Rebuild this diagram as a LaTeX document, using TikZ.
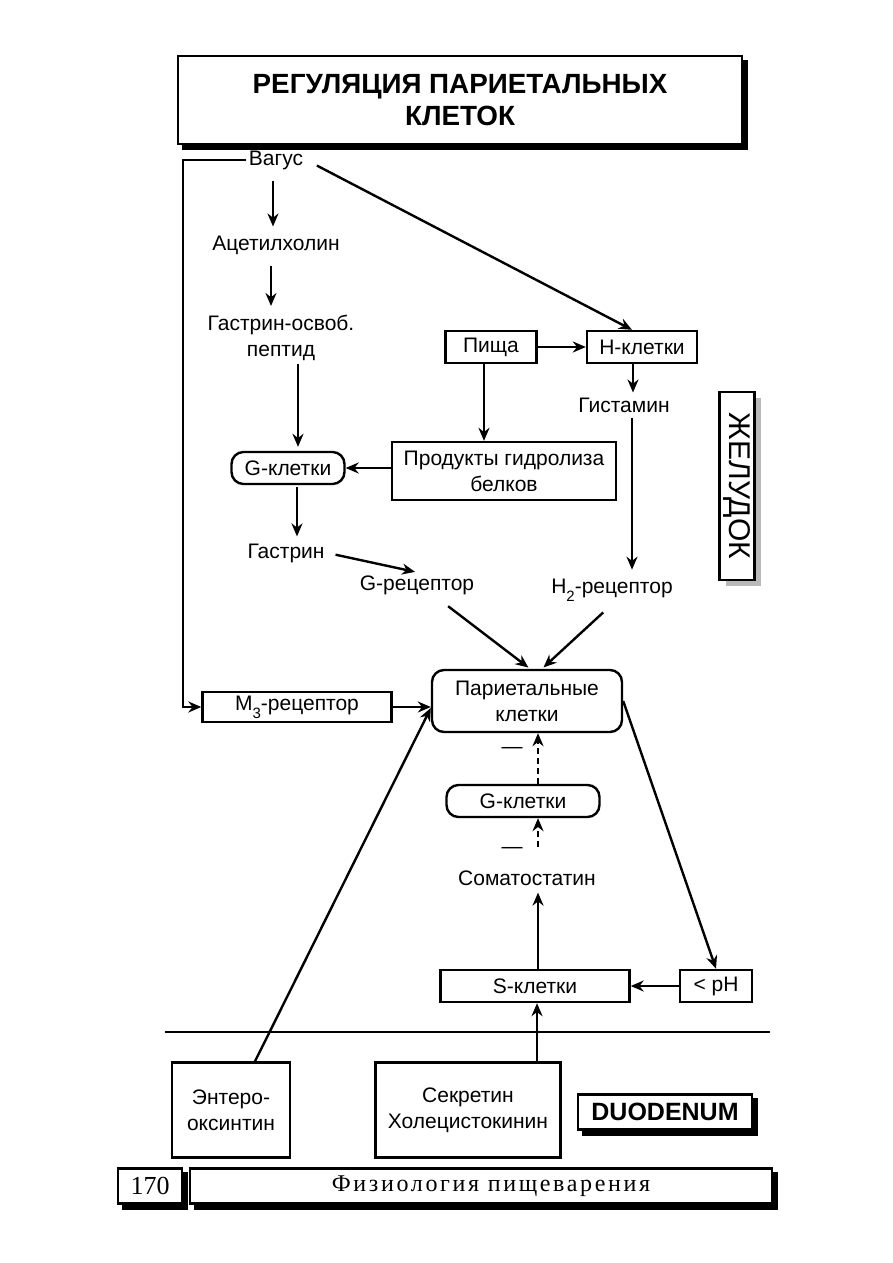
\documentclass[tikz,border=0pt]{standalone}
\usepackage{fontspec}
\setmainfont{Liberation Sans}
\newfontfamily\pagefont{Liberation Serif}
\newfontfamily\bookfont[LetterSpace=11]{Liberation Serif}
\newcommand\lowsub[1]{\raisebox{-0.7ex}{\fontsize{7.5}{8}\selectfont #1}}
\usetikzlibrary{arrows.meta,shadows}

\begin{document}
\begin{tikzpicture}[x=0.5pt,y=-0.5pt,
  >={Stealth[length=6.5pt,width=5.5pt]},
  line width=1.2pt,
  font=\fontsize{10.5}{13}\selectfont,
  box/.style={draw,fill=white,minimum height=16pt,inner sep=2pt,align=center},
  roundbox/.style={box,rounded corners=6pt},
  lbl/.style={inner sep=1pt,align=center},
  blackshadow/.style={copy shadow={shadow xshift=2.5pt,shadow yshift=-2.5pt,fill=black,draw=black}},
  grayshadow/.style={copy shadow={shadow xshift=3pt,shadow yshift=-3pt,fill=gray!55,draw=none}},
  inhib/.style={->,dashed,dash pattern=on 3pt off 2pt}]
  \path[use as bounding box,fill=white] (0,0) rectangle (893,1263);

  % title and side labels
  \node[box,blackshadow,minimum width=282pt,minimum height=44pt,
        font=\bfseries\fontsize{13.9}{16}\selectfont] (title) at (460,100)
        {РЕГУЛЯЦИЯ ПАРИЕТАЛЬНЫХ\\КЛЕТОК};
  \node[box,grayshadow,rotate=-90,minimum width=94pt,minimum height=17.5pt,
        inner sep=0pt,font=\fontsize{15}{15}\selectfont] (stomach) at (737,486) {ЖЕЛУДОК};
  \node[box,blackshadow,minimum width=87pt,minimum height=17.5pt,
        font=\bfseries\fontsize{12.5}{14}\selectfont] (duod) at (665,1112) {DUODENUM};

  % stomach
  \node[lbl] (vagus) at (276,160) {Вагус};
  \node[lbl] (ach) at (276,245) {Ацетилхолин};
  \node[lbl] (grp) at (281,338) {Гастрин-освоб.\\пептид};
  \node[box] (food) at (491,347) [minimum width=45.5pt] {Пища};
  \node[box] (hcell) at (642,347) [minimum width=55pt] {H-клетки};
  \node[lbl] (hist) at (624,405) {Гистамин};
  \node[box] (prod) at (504,471) [minimum width=112pt,minimum height=29pt] {Продукты гидролиза\\белков};
  \node[roundbox] (gcell1) at (288,468) [minimum width=56.5pt] {G-клетки};
  \node[lbl] (gastrin) at (286,553) {Гастрин};
  \node[lbl] (grec) at (417,585) {G-рецептор};
  \node[lbl] (h2rec) at (612,590) {H\lowsub{2}-рецептор};
  \node[roundbox] (par) at (527,701) [minimum width=95pt,minimum height=31pt] {Париетальные\\клетки};
  \node[box] (m3) at (297,707) [minimum width=94.5pt,minimum height=15pt] {M\lowsub{3}-рецептор};
  \node[lbl] (minus1) at (512,750) {—};
  \node[roundbox] (gcell2) at (523,801) [minimum width=76.5pt] {G-клетки};
  \node[lbl] (minus2) at (512,850) {—};
  \node[lbl] (somat) at (527,878) {Соматостатин};
  \node[box] (scell) at (535,986) [minimum width=94.5pt] {S-клетки};
  \node[box] (ph) at (716,986) [minimum width=36pt] {< pH};

  % duodenum
  \draw (165,1032) -- (770,1032);
  \node[box] (entero) at (231,1110) [minimum width=59pt,minimum height=47.5pt] {Энтеро-\\оксинтин};
  \node[box] (secr) at (468,1110) [minimum width=92.5pt,minimum height=47.5pt] {Секретин\\Холецистокинин};

  % footer
  \node[box,blackshadow,minimum width=32pt,minimum height=17.5pt,
        font=\pagefont\fontsize{13}{14}\selectfont] (page) at (150,1186) {170};
  \node[box,blackshadow,minimum width=291pt,minimum height=17.5pt,
        font=\bookfont\fontsize{12}{14}\selectfont] (book) at (481,1186) {\hspace{10pt}Физиология пищеварения};

  % connectors
  \coordinate (vleft) at (183,707);
  \draw[->] (vagus.west) -| (vleft) -- (m3.west);
  \draw[->,shorten <=4pt,shorten >=3pt] ([xshift=-1.5pt]vagus.south) -- ([xshift=-1.5pt]ach.north);
  \draw[->,shorten <=4pt,shorten >=3pt] ([xshift=-2.5pt]ach.south) -- ([xshift=-2.5pt]ach.south |- grp.north);
  \draw[->,shorten >=2pt] ([xshift=8.5pt]grp.south) -- ([xshift=8.5pt]grp.south |- gcell1.north);
  \draw[->,shorten <=1pt,shorten >=2pt] ([xshift=4.5pt]gcell1.south) -- ([xshift=4.5pt]gcell1.south |- gastrin.north);
  \draw[->,shorten <=4pt,shorten >=1pt] (gastrin.east) -- (grec.north);
  \draw[->,shorten <=6pt] (vagus.east) -- ([xshift=-5pt]hcell.north);
  \draw[->] (food) -- (hcell);
  \draw[->,shorten >=1pt] ([xshift=-4.5pt]hcell.south) -- ([xshift=-4.5pt]hcell.south |- hist.north);
  \draw[->] ([xshift=-3.5pt]food.south) -- ([xshift=-3.5pt]food.south |- prod.north);
  \draw[->] (prod.west |- gcell1.east) -- (gcell1.east);
  \draw[->,shorten <=1pt,shorten >=3pt] ([xshift=4pt]hist.south) -- ([xshift=4pt]hist.south |- h2rec.north);
  \draw[->,shorten <=7pt,shorten >=1pt] ([xshift=10pt]grec.south) -- ([xshift=1.5pt]par.north);
  \draw[->,shorten <=6pt,shorten >=1pt] (h2rec.south) -- ([xshift=7.5pt]par.north);
  \draw[->] (m3.east) -- (par.west |- m3.east);
  \draw[->] ([xshift=12pt]entero.north) -- ([yshift=-3.5pt]par.west);
  \draw[inhib] ([xshift=7.5pt]gcell2.north) -- ([xshift=7.5pt]gcell2.north |- par.south);
  \draw[inhib,shorten <=10pt] ([xshift=5.5pt]somat.north) -- ([xshift=5.5pt]somat.north |- gcell2.south);
  \draw[->,shorten >=2pt] ([xshift=1.5pt]scell.north) -- ([xshift=1.5pt]scell.north |- somat.south);
  \draw[->] (ph.west) -- (scell.east);
  \draw[->] (par.east) -- (ph.north);
  \draw[->] ([xshift=1pt]scell.south |- secr.north) -- ([xshift=1pt]scell.south);
\end{tikzpicture}
\end{document}
